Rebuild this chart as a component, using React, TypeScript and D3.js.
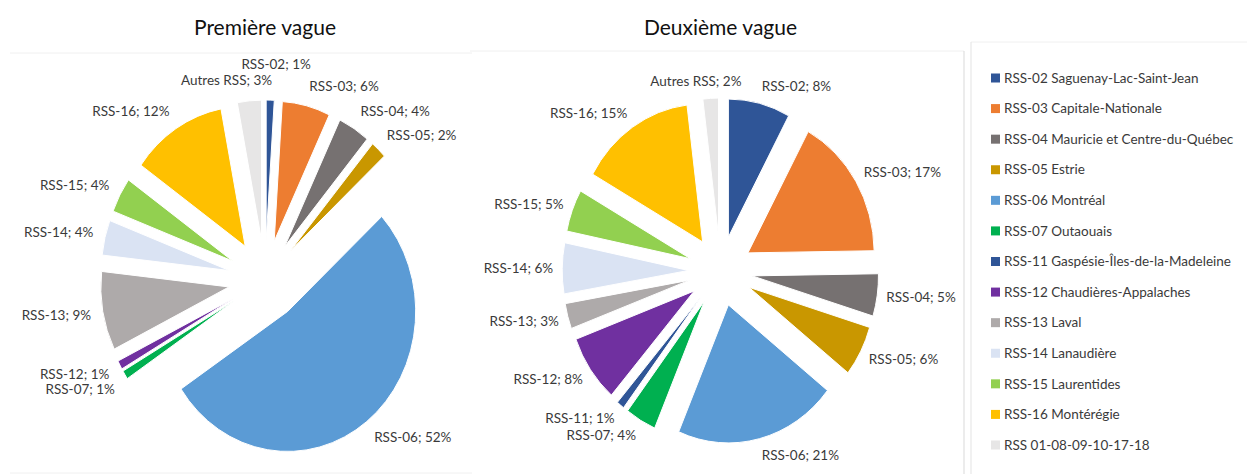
import React from 'react';
import * as d3 from 'd3';

// regions, in pie order (clockwise from 12 o'clock)
const categories = ['RSS-02', 'RSS-03', 'RSS-04', 'RSS-05', 'RSS-06', 'RSS-07', 'RSS-11', 'RSS-12', 'RSS-13', 'RSS-14', 'RSS-15', 'RSS-16', 'Autres RSS'];
const legendNames = [
  'RSS-02 Saguenay-Lac-Saint-Jean',
  'RSS-03 Capitale-Nationale',
  'RSS-04 Mauricie et Centre-du-Québec',
  'RSS-05 Estrie',
  'RSS-06 Montréal',
  'RSS-07 Outaouais',
  'RSS-11 Gaspésie-Îles-de-la-Madeleine',
  'RSS-12 Chaudières-Appalaches',
  'RSS-13 Laval',
  'RSS-14 Lanaudière',
  'RSS-15 Laurentides',
  'RSS-16 Montérégie',
  'RSS 01-08-09-10-17-18',
];
const colors = ['#2F5597', '#ED7D31', '#767171', '#C99700', '#5B9BD5', '#00B050', '#2F5597', '#7030A0', '#AEAAAA', '#DAE3F3', '#92D050', '#FFC000', '#E7E6E6'];

// percentages
const wave1 = [1, 6, 4, 2, 52, 1, 0, 1, 9, 4, 4, 12, 3];
const wave2 = [8, 17, 5, 6, 21, 4, 1, 8, 3, 6, 5, 15, 2];

const FONT = 'Lato, "Open Sans", sans-serif';
const TXT = '#3a3a3a';

let ctx: CanvasRenderingContext2D | null = null;
const measure = (s: string, size: number) => {
  if (!ctx) ctx = document.createElement('canvas').getContext('2d');
  if (!ctx) return s.length * size * 0.5;
  ctx.font = `${size}px ${FONT}`;
  return ctx.measureText(s).width;
};

const Pie = ({ values, cx, cy, r, explode, sx, title, gap }) => {
  const arcs = d3.pie<number>().sort(null).value(d => d)(values);
  const arc = d3.arc<d3.PieArcDatum<number>>().innerRadius(0).outerRadius(r);

  // data labels, outside end, pushed apart when they overlap
  const fs = 13.5;
  const h = 15;
  const rl = explode + r + gap;
  const boxes = [];
  const labels = arcs.map((a, i) => {
    if (a.value <= 0) return null;
    const m = (a.startAngle + a.endAngle) / 2;
    const sin = Math.sin(m), cos = Math.cos(m);
    const px = cx + sx * rl * sin;
    const py = cy - rl * cos;
    const text = `${categories[i]}; ${a.value}%`;
    const w = measure(text, fs);
    const s = Math.max(-1, Math.min(1, 5 * sin));
    return { i, text, w, x: px - (w * (1 - s)) / 2, y: py - (h / 2) * cos, dir: cos > 0 ? -1 : 1 };
  });
  for (let k = labels.length - 1; k >= 0; k--) {
    const l = labels[k];
    if (!l) continue;
    let guard = 0;
    while (guard++ < 60 && boxes.some(b => l.x < b.x + b.w && l.x + l.w > b.x && Math.abs(l.y - b.y) < h)) {
      l.y += l.dir;
    }
    boxes.push(l);
  }

  return (
    <g>
      <text x={cx} y={35} textAnchor="middle" fontFamily={FONT} fontSize={21} fill="#111">{title}</text>
      <g transform={`translate(${cx},${cy}) scale(${sx},1)`}>
        {arcs.map((a, i) => {
          const m = (a.startAngle + a.endAngle) / 2;
          return (
            <path
              key={i}
              d={arc(a) || ''}
              transform={`translate(${explode * Math.sin(m)},${-explode * Math.cos(m)})`}
              fill={colors[i]}
              stroke="#fff"
              strokeWidth={1}
              vectorEffect="non-scaling-stroke"
            />
          );
        })}
      </g>
      {labels.map(l => l && (
        <text key={l.i} x={l.x} y={l.y} dy="0.35em" fontFamily={FONT} fontSize={fs} fill={TXT}>{l.text}</text>
      ))}
    </g>
  );
};

export default function App() {
  const legendY = d3.scaleLinear().domain([0, legendNames.length - 1]).range([78, 445]);
  return (
    <svg width={1247} height={474} style={{ position: 'absolute', left: 0, top: 0, background: '#fff' }}>
      {/* chart frames */}
      <line x1={10} x2={472} y1={53} y2={53} stroke="#f0f0f0" />
      <line x1={10} x2={472} y1={473} y2={473} stroke="#f0f0f0" />
      <line x1={470} x2={964} y1={51} y2={51} stroke="#f0f0f0" />
      <line x1={964} x2={964} y1={51} y2={474} stroke="#d9d9d9" />
      <line x1={971} x2={1247} y1={42} y2={42} stroke="#f0f0f0" />
      <line x1={971} x2={971} y1={42} y2={474} stroke="#e3e3e3" />

      <Pie values={wave1} cx={265} cy={280} r={140} explode={40} sx={0.915} title="Première vague" gap={13} />
      <Pie values={wave2} cx={720.5} cy={271} r={138} explode={35} sx={0.915} title="Deuxième vague" gap={10} />

      {legendNames.map((n, i) => (
        <g key={n} transform={`translate(991,${legendY(i)})`}>
          <rect x={0} y={-4.5} width={9} height={9} fill={colors[i]} />
          <text x={13} dy="0.35em" fontFamily={FONT} fontSize={13.5} fill={TXT}>{n}</text>
        </g>
      ))}
    </svg>
  );
}
